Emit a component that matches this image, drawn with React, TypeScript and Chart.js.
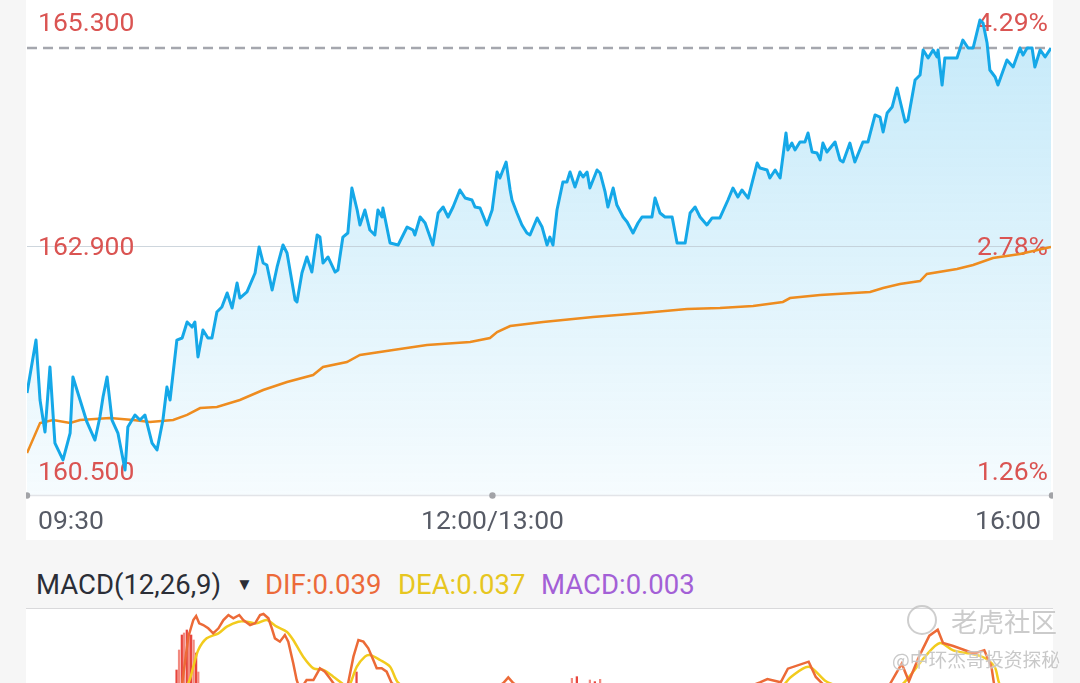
import React, { useEffect, useRef } from "react";
import { Chart, registerables } from "chart.js";

Chart.register(...registerables);

// ---------- price panel data ----------
const priceMinutes = [
  0, 2.9, 4.2, 5.8, 7.4, 9.0, 11.6, 13.9, 14.8, 17.1,
  19.3, 21.9, 23.5, 24.5, 25.8, 27.4, 29.3, 31.6, 32.5, 34.8,
  36.4, 38.0, 40.3, 41.9, 43.8, 45.1, 46.1, 48.3, 50.0, 51.6,
  53.2, 54.1, 55.1, 56.7, 58.3, 59.6, 61.2, 62.8, 64.5, 66.1,
  67.7, 68.6, 70.9, 73.5, 74.8, 76.1, 77.3, 79.0, 80.6, 82.5,
  83.8, 86.4, 87.0, 88.6, 90.2, 91.8, 93.5, 94.4, 95.4, 97.0,
  99.3, 100.2, 101.8, 103.4, 104.7, 106.4, 107.3, 108.9, 110.5, 112.1,
  113.1, 114.4, 114.7, 117.0, 119.6, 122.5, 124.4, 125.0, 126.7, 128.3,
  130.8, 132.5, 134.1, 135.7, 137.3, 139.5, 141.2, 143.4, 144.4, 146.0,
  148.2, 149.9, 151.5, 152.4, 154.4, 155.7, 156.3, 157.9, 159.5, 161.1,
  162.1, 164.4, 166.0, 167.6, 168.5, 169.5, 170.8, 172.7, 174.0, 175.0,
  176.6, 178.2, 179.2, 180.5, 181.4, 183.7, 184.7, 186.3, 187.2, 188.9,
  190.1, 192.1, 193.4, 195.3, 196.9, 198.2, 201.4, 202.4, 204.0, 205.6,
  207.9, 209.5, 212.1, 213.7, 215.3, 216.9, 219.1, 220.8, 223.3, 225.9,
  227.5, 229.1, 230.4, 232.4, 235.3, 236.2, 238.5, 239.4, 241.1, 242.7,
  244.6, 245.2, 246.5, 247.5, 249.1, 250.7, 251.7, 253.0, 254.6, 255.6,
  256.5, 257.8, 260.4, 262.0, 263.0, 265.2, 266.8, 269.4, 271.0, 273.3,
  274.9, 275.9, 277.2, 278.8, 280.4, 281.3, 283.0, 283.9, 286.2, 287.8,
  288.8, 290.4, 292.0, 293.3, 293.6, 294.9, 295.8, 298.4, 299.7, 301.6,
  303.3, 304.9, 307.1, 308.1, 309.4, 310.3, 312.0, 312.9, 315.8, 317.8,
  320.0, 321.0, 322.3, 323.9, 324.8, 326.5, 328.1, 330,
];

const priceValues = [
  161.334, 161.900, 161.259, 160.917, 161.612, 160.799, 160.618, 160.906, 161.505, 161.259,
  161.024, 160.831, 161.077, 161.291, 161.505, 161.045, 160.906, 160.511, 160.970, 161.099,
  161.045, 161.099, 160.799, 160.725, 161.045, 161.398, 161.259, 161.900, 161.922, 162.093,
  162.039, 162.093, 161.719, 162.007, 161.922, 161.922, 162.200, 162.253, 162.403, 162.243,
  162.510, 162.349, 162.414, 162.617, 162.895, 162.724, 162.702, 162.435, 162.681, 162.916,
  162.830, 162.328, 162.307, 162.617, 162.788, 162.627, 163.023, 163.001, 162.724, 162.788,
  162.627, 162.649, 163.001, 163.044, 163.525, 163.290, 163.130, 163.290, 163.076, 163.023,
  163.290, 163.215, 163.311, 162.937, 162.916, 163.108, 163.076, 163.023, 163.215, 163.151,
  162.916, 163.258, 163.322, 163.215, 163.322, 163.504, 163.418, 163.397, 163.322, 163.311,
  163.130, 163.290, 163.696, 163.632, 163.803, 163.504, 163.397, 163.258, 163.130, 163.044,
  163.023, 163.205, 163.108, 162.916, 163.001, 162.916, 163.290, 163.589, 163.589, 163.696,
  163.536, 163.696, 163.643, 163.696, 163.525, 163.718, 163.686, 163.483, 163.322, 163.525,
  163.343, 163.215, 163.162, 163.044, 163.151, 163.215, 163.215, 163.418, 163.258, 163.215,
  163.215, 162.937, 162.937, 163.258, 163.322, 163.215, 163.130, 163.205, 163.205, 163.397,
  163.525, 163.429, 163.504, 163.418, 163.792, 163.739, 163.718, 163.632, 163.718, 163.632,
  164.113, 163.932, 164.006, 163.932, 164.017, 164.017, 164.113, 163.910, 163.899, 163.825,
  164.006, 163.910, 164.017, 163.825, 163.803, 164.006, 163.803, 164.017, 164.017, 164.306,
  164.284, 164.124, 164.327, 164.391, 164.594, 164.466, 164.231, 164.252, 164.680, 164.733,
  165.001, 164.915, 165.001, 164.926, 165.001, 164.626, 164.915, 164.915, 164.915, 165.107,
  165.022, 165.022, 165.321, 165.289, 165.075, 164.787, 164.712, 164.626, 164.894, 164.819,
  165.022, 164.947, 165.022, 165.022, 164.819, 165.001, 164.926, 165.022,
];

const avgMinutes = [
  0, 4.2, 8.4, 13.9, 17.1, 26.7, 34.2, 39.6, 47.1, 51.6,
  55.8, 61.2, 68.6, 76.1, 83.8, 92.2, 95.4, 103.1, 107.3, 118.0,
  128.9, 142.8, 149.2, 151.5, 155.7, 166.3, 182.4, 198.5, 212.7, 223.3,
  234.0, 243.6, 245.9, 255.6, 271.7, 275.9, 281.3, 287.8, 290.0, 299.7,
  304.9, 311.3, 320.0, 330,
];

const avgValues = [
  160.692, 161.013, 161.045, 161.013, 161.045, 161.067, 161.045, 161.024, 161.045, 161.099,
  161.173, 161.184, 161.259, 161.366, 161.451, 161.526, 161.612, 161.665, 161.740, 161.794,
  161.847, 161.879, 161.922, 161.986, 162.050, 162.093, 162.146, 162.189, 162.232, 162.243,
  162.264, 162.307, 162.349, 162.382, 162.414, 162.456, 162.499, 162.531, 162.606, 162.660,
  162.702, 162.777, 162.820, 162.895,
];

const priceTicks = [165.3, 162.9, 160.5];
const prevClose = 158.5;
const lastPrice = 165.022;
const timeTicks = [0, 150, 330];
const timeLabels = ["09:30", "12:00/13:00", "16:00"];

// ---------- MACD panel data ----------
const difMinutes = [
  0, 23.5, 42.9, 49.3, 52.0, 53.6, 54.5, 55.5, 56.8, 58.4,
  60.0, 61.7, 63.3, 64.9, 66.5, 68.4, 69.7, 71.9, 73.5, 75.1,
  76.2, 77.8, 78.9, 79.9, 81.5, 83.1, 84.2, 85.8, 86.9, 88.0,
  90.1, 92.3, 94.4, 96.0, 97.6, 98.7, 100.9, 103.5, 105.2, 106.8,
  108.4, 110.0, 111.6, 112.7, 114.3, 115.9, 117.5, 126.7, 142.8, 153.5,
  155.1, 156.7, 165.3, 184.7, 216.9, 229.8, 236.2, 238.6, 242.9, 245.2,
  251.9, 254.2, 257.5, 265.2, 277.5, 281.9, 284.2, 287.5, 290.8, 293.5,
  295.2, 298.5, 305.2, 308.5, 310.8, 311.8, 316.8, 330,
];
const difValues = [
  -0.09, -0.06, -0.045, 0.03, 0.22, 0.27, 0.282, 0.26, 0.255, 0.245,
  0.23, 0.245, 0.27, 0.285, 0.275, 0.285, 0.27, 0.255, 0.26, 0.285,
  0.288, 0.275, 0.245, 0.215, 0.205, 0.225, 0.205, 0.14, 0.09, 0.06,
  0.09, 0.09, 0.125, 0.115, 0.095, 0.081, 0.054, 0.081, 0.16, 0.21,
  0.205, 0.185, 0.15, 0.125, 0.125, 0.115, 0.081, 0.015, 0.015, 0.081,
  0.098, 0.081, 0.03, 0.045, 0.03, 0.06, 0.083, 0.093, 0.083, 0.124,
  0.145, 0.099, 0.068, 0.015, 0.068, 0.139, 0.086, 0.161, 0.223, 0.241,
  0.201, 0.192, 0.17, 0.179, 0.13, 0.068, 0.0, 0.03,
];

const deaMinutes = [
  0, 42.9, 52.0, 53.6, 55.2, 57.9, 61.7, 64.4, 68.1, 70.8,
  74.0, 77.2, 80.5, 83.7, 85.8, 89.0, 92.3, 95.5, 98.7, 101.4,
  103.4, 106.3, 108.9, 110.5, 113.8, 117.0, 119.7, 129.9, 152.4, 184.7,
  229.8, 242.9, 246.2, 251.9, 257.5, 261.8, 268.4, 280.9, 284.2, 289.5,
  294.2, 298.5, 307.5, 311.8, 314.2, 330,
];
const deaValues = [
  -0.105, -0.06, 0.081, 0.13, 0.18, 0.215, 0.23, 0.25, 0.265, 0.265,
  0.26, 0.27, 0.25, 0.235, 0.21, 0.16, 0.125, 0.12, 0.1, 0.081,
  0.066, 0.13, 0.16, 0.165, 0.15, 0.13, 0.081, 0.015, 0.0, 0.03,
  0.039, 0.068, 0.099, 0.13, 0.086, 0.068, 0.03, 0.068, 0.099, 0.161,
  0.201, 0.179, 0.161, 0.13, 0.068, 0.03,
];

const histMinutes = [
  48.2, 49.0, 49.9, 50.6, 51.5, 52.2, 52.9, 53.7, 54.5, 55.2,
  106.2, 175.6, 177.2, 181.4, 183.0, 184.7,
];
const histValues = [
  0.12, 0.18, 0.225, 0.231, 0.24, 0.231, 0.225, 0.21, 0.171, 0.114,
  0.114, 0.095, 0.1, 0.09, 0.085, 0.092,
];

// ---------- layout constants ----------
const Y_MIN = 160.2434;
const Y_MAX = 165.4283;
const FONT = "Roboto, 'Noto Sans', sans-serif";

const zip = (xs: number[], ys: number[]) => xs.map((x, i) => ({ x, y: ys[i] }));

const priceOverlay = {
  id: "priceOverlay",
  beforeDatasetsDraw(chart: any) {
    const { ctx, chartArea, scales } = chart;
    const y = scales.y;
    ctx.save();
    const gy = Math.round(y.getPixelForValue(priceTicks[1])) + 0.5;
    ctx.strokeStyle = "rgba(190,200,210,0.75)";
    ctx.lineWidth = 1;
    ctx.beginPath();
    ctx.moveTo(chartArea.left, gy);
    ctx.lineTo(chartArea.right, gy);
    ctx.stroke();
    const dy = y.getPixelForValue(lastPrice);
    ctx.strokeStyle = "#a5a7ae";
    ctx.lineWidth = 2.5;
    ctx.setLineDash([10, 6]);
    ctx.beginPath();
    ctx.moveTo(chartArea.left, dy);
    ctx.lineTo(chartArea.right, dy);
    ctx.stroke();
    ctx.setLineDash([]);
    ctx.font = `26.5px ${FONT}`;
    ctx.fillStyle = "#da5452";
    ctx.textBaseline = "middle";
    priceTicks.forEach((v) => {
      const py = y.getPixelForValue(v) + 2;
      ctx.textAlign = "left";
      ctx.fillText(v.toFixed(3), chartArea.left + 11, py);
      ctx.textAlign = "right";
      const pct = ((v / prevClose - 1) * 100).toFixed(2) + "%";
      ctx.fillText(pct, chartArea.right - 3, py);
    });
    ctx.restore();
  },
  afterDraw(chart: any) {
    const { ctx, chartArea, scales } = chart;
    const x = scales.x;
    ctx.save();
    const yb = chartArea.bottom + 0.5;
    ctx.strokeStyle = "#e2e4e8";
    ctx.lineWidth = 1.5;
    ctx.beginPath();
    ctx.moveTo(chartArea.left, yb);
    ctx.lineTo(chartArea.right + 2, yb);
    ctx.stroke();
    ctx.fillStyle = "#a2a3a7";
    timeTicks.forEach((t, i) => {
      const px = x.getPixelForValue(t) + (i === 2 ? 1 : 0);
      ctx.beginPath();
      ctx.arc(px, yb, 3.2, 0, Math.PI * 2);
      ctx.fill();
    });
    ctx.font = `26.5px ${FONT}`;
    ctx.fillStyle = "#575b66";
    ctx.textBaseline = "middle";
    timeTicks.forEach((t, i) => {
      const px = x.getPixelForValue(t);
      const ly = chartArea.bottom + 27;
      if (i === 0) {
        ctx.textAlign = "left";
        ctx.fillText(timeLabels[i], px + 11, ly);
      } else if (i === 1) {
        ctx.textAlign = "center";
        ctx.fillText(timeLabels[i], px, ly);
      } else {
        ctx.textAlign = "right";
        ctx.fillText(timeLabels[i], px - 10, ly);
      }
    });
    ctx.restore();
  },
};

export default function App() {
  const mainRef = useRef<HTMLCanvasElement>(null);
  const macdRef = useRef<HTMLCanvasElement>(null);

  useEffect(() => {
    document.body.style.margin = "0";
    const main = new Chart(mainRef.current as HTMLCanvasElement, {
      type: "line",
      data: {
        datasets: [
          {
            data: zip(priceMinutes, priceValues),
            borderColor: "#15a8e8",
            borderWidth: 3,
            pointRadius: 0,
            tension: 0,
            borderJoinStyle: "round",
            fill: "start",
            backgroundColor: (c: any) => {
              const { ctx, chartArea } = c.chart;
              if (!chartArea) return "rgba(20,168,232,0.15)";
              const g = ctx.createLinearGradient(0, chartArea.top, 0, chartArea.bottom);
              g.addColorStop(0, "rgba(20,168,232,0.25)");
              g.addColorStop(1, "rgba(20,168,232,0.04)");
              return g;
            },
          },
          {
            data: zip(avgMinutes, avgValues),
            borderColor: "#ee8c1f",
            borderWidth: 2.5,
            pointRadius: 0,
            tension: 0,
            fill: false,
          },
        ],
      },
      options: {
        animation: false,
        responsive: false,
        events: [],
        layout: { padding: { left: 1, right: 2, top: 10, bottom: 45 } },
        scales: {
          x: { type: "linear", min: 0, max: 330, display: false },
          y: { type: "linear", min: Y_MIN, max: Y_MAX, display: false },
        },
        plugins: {
          legend: { display: false },
          tooltip: { enabled: false },
          filler: { drawTime: "beforeDatasetsDraw" },
        },
      } as any,
      plugins: [priceOverlay],
    });

    const macd = new Chart(macdRef.current as HTMLCanvasElement, {
      type: "line",
      data: {
        datasets: [
          {
            type: "line",
            data: zip(difMinutes, difValues),
            borderColor: "#ec6a37",
            borderWidth: 2.5,
            pointRadius: 0,
            tension: 0,
            order: 1,
          },
          {
            type: "line",
            data: zip(deaMinutes, deaValues),
            borderColor: "#f2cb1d",
            borderWidth: 2.5,
            pointRadius: 0,
            tension: 0.3,
            order: 2,
          },
          {
            type: "bar",
            data: zip(histMinutes, histValues),
            backgroundColor: histMinutes.map((_, i) => (i % 2 === 0 ? "#e8453c" : "#f28a80")),
            barThickness: 1.6,
            grouped: false,
            order: 3,
          },
        ],
      } as any,
      options: {
        animation: false,
        responsive: false,
        events: [],
        layout: { padding: { left: 1, right: 2, top: 1, bottom: 1 } },
        scales: {
          x: { type: "linear", min: 0, max: 330, display: false, offset: false },
          y: { type: "linear", min: -0.3, max: 0.3, display: false },
        },
        plugins: { legend: { display: false }, tooltip: { enabled: false } },
      } as any,
    });

    return () => {
      main.destroy();
      macd.destroy();
    };
  }, []);

  const titleStyle: React.CSSProperties = {
    position: "absolute",
    top: 571,
    fontSize: 27.5,
    lineHeight: "28px",
    fontFamily: FONT,
    whiteSpace: "nowrap",
  };

  return (
    <div
      style={{
        position: "fixed",
        left: 0,
        top: 0,
        width: 1080,
        height: 683,
        background: "#f6f6f6",
        overflow: "hidden",
        fontFamily: FONT,
      }}
    >
      <div style={{ position: "absolute", left: 26, top: 0, width: 1027, height: 540, background: "#ffffff" }}>
        <canvas ref={mainRef} width={1027} height={540} style={{ display: "block" }} />
      </div>

      <span style={{ ...titleStyle, left: 36, color: "#2b2e37" }}>MACD(12,26,9)</span>
      <span style={{ ...titleStyle, left: 236, top: 576, fontSize: 17, lineHeight: "17px", color: "#2b2e37" }}>▼</span>
      <span style={{ ...titleStyle, left: 265, color: "#ec6a3a" }}>DIF:0.039</span>
      <span style={{ ...titleStyle, left: 398, color: "#e7c620" }}>DEA:0.037</span>
      <span style={{ ...titleStyle, left: 541, color: "#a360d6" }}>MACD:0.003</span>

      <div style={{ position: "absolute", left: 26, top: 608, width: 1027, height: 1, background: "#d9d9db" }} />
      <div style={{ position: "absolute", left: 26, top: 609, width: 1027, height: 202, background: "#ffffff" }}>
        <canvas ref={macdRef} width={1027} height={202} style={{ display: "block" }} />
      </div>

      {/* watermark */}
      <div
        style={{
          position: "absolute",
          left: 907,
          top: 605,
          width: 26,
          height: 26,
          borderRadius: "50%",
          border: "2px solid rgba(190,190,190,0.75)",
        }}
      />
      <span
        style={{
          position: "absolute",
          left: 951,
          top: 604,
          fontSize: 26.5,
          lineHeight: "34px",
          fontFamily: "'Noto Sans CJK SC', sans-serif",
          color: "rgba(190,190,190,0.8)",
          whiteSpace: "nowrap",
          textShadow: "0 0 2px #fff",
        }}
      >
        老虎社区
      </span>
      <span
        style={{
          position: "absolute",
          left: 892,
          top: 647,
          fontSize: 18.8,
          lineHeight: "24px",
          fontFamily: "'Noto Sans CJK SC', sans-serif",
          color: "rgba(190,190,190,0.85)",
          whiteSpace: "nowrap",
          textShadow: "0 0 2px #fff",
        }}
      >
        @中环杰哥投资探秘
      </span>
    </div>
  );
}
